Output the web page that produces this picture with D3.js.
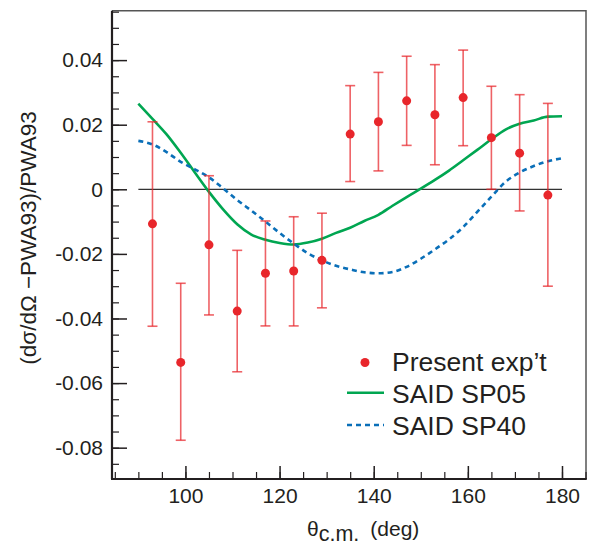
<!DOCTYPE html>
<html>
<head>
<meta charset="utf-8">
<script src="https://cdn.jsdelivr.net/npm/d3@7"></script>
<style>
  body { margin: 0; background: #fff; }
  text { font-family: "Liberation Sans", Arial, Helvetica, sans-serif; fill: #231f20; }
</style>
</head>
<body>
<svg id="chart" width="597" height="544"></svg>
<script>
// measured points (theta in deg)
var angles = [93, 99, 105, 111, 117, 123, 129, 135, 141, 147, 153, 159, 165, 171, 177]
var ratio = [-0.0107, -0.0536, -0.0172, -0.0377, -0.0260, -0.0253, -0.0220, 0.0171, 0.0209, 0.0274, 0.0231, 0.0284, 0.0160, 0.0112, -0.0018]
var errHi = [0.0209, -0.0291, 0.0042, -0.0189, -0.0098, -0.0085, -0.0074, 0.0321, 0.0362, 0.0412, 0.0386, 0.0431, 0.0319, 0.0293, 0.0266]
var errLo = [-0.0424, -0.0777, -0.0389, -0.0565, -0.0423, -0.0423, -0.0367, 0.0024, 0.0057, 0.0136, 0.0076, 0.0135, 0.0000, -0.0067, -0.0300]

// PWA curves
var curveAngles = [90, 93, 96, 99, 102, 105, 108, 111, 114, 117, 120, 123, 126, 129, 132, 135, 138, 141, 144, 147, 150, 153, 156, 159, 162, 165, 168, 171, 174, 177, 180]
var sp05 = [0.0265, 0.0218, 0.0170, 0.0113, 0.0052, -0.0008, -0.0062, -0.0108, -0.0140, -0.0156, -0.0166, -0.0171, -0.0165, -0.0153, -0.0135, -0.0119, -0.0098, -0.0079, -0.0051, -0.0024, 0.0002, 0.0029, 0.0058, 0.0090, 0.0122, 0.0155, 0.0185, 0.0203, 0.0213, 0.0225, 0.0226]
var sp40 = [0.0150, 0.0139, 0.0115, 0.0085, 0.0062, 0.0037, 0.0003, -0.0033, -0.0066, -0.0100, -0.0135, -0.0168, -0.0198, -0.0220, -0.0237, -0.0248, -0.0257, -0.0260, -0.0256, -0.0240, -0.0215, -0.0186, -0.0155, -0.0117, -0.0070, -0.0023, 0.0023, 0.0052, 0.0072, 0.0087, 0.0096]

var xMajor = [100, 120, 140, 160, 180]
var yMajor = [-0.08, -0.06, -0.04, -0.02, 0, 0.02, 0.04]
var legendLabels = ["Present exp\u2019t", "SAID SP05", "SAID SP40"]

var red = "#e8262b", green = "#00a651", blue = "#0a6fb8"

var dims = { left: 112, right: 586, top: 10.7, bottom: 479 }

var svg = d3.select("#chart")

var x = d3.scaleLinear().domain([84.4, 185.1]).range([dims.left, dims.right])
var y = d3.scaleLinear().domain([-0.0897, 0.0553]).range([dims.bottom, dims.top])

// frame (top, right)
svg.append("path")
  .attr("d", `M${dims.left},${dims.top}H${dims.right}V${dims.bottom}`)
  .attr("fill", "none")
  .attr("stroke", "#555")
  .attr("stroke-width", 1.5)

// zero line
svg.append("line")
  .attr("x1", x(90)).attr("x2", x(180))
  .attr("y1", y(0)).attr("y2", y(0))
  .attr("stroke", "#333")
  .attr("stroke-width", 1.2)

// minor ticks
var xMinor = d3.range(85, 186, 5)
var yMinor = d3.range(-0.085, 0.0551, 0.005)

svg.append("g")
  .attr("transform", `translate(0,${dims.bottom})`)
  .call(d3.axisBottom(x).tickValues(xMinor).tickSizeInner(-7).tickSizeOuter(0).tickFormat(""))
  .call(g => g.select(".domain").remove())
  .selectAll("line").attr("stroke", "#231f20").attr("stroke-width", 1.2)

svg.append("g")
  .attr("transform", `translate(${dims.left},0)`)
  .call(d3.axisLeft(y).tickValues(yMinor).tickSizeInner(-7).tickSizeOuter(0).tickFormat(""))
  .call(g => g.select(".domain").remove())
  .selectAll("line").attr("stroke", "#231f20").attr("stroke-width", 1.2)

// major axes
var xAxis = svg.append("g")
  .attr("transform", `translate(0,${dims.bottom})`)
  .call(d3.axisBottom(x).tickValues(xMajor).tickSizeInner(-13).tickSizeOuter(0).tickPadding(9))
xAxis.select(".domain").attr("stroke", "#231f20").attr("stroke-width", 2.2)
  .attr("d", `M${dims.left - 1},0H${dims.right + 0.75}`)
xAxis.selectAll("line").attr("stroke", "#231f20").attr("stroke-width", 1.5)
xAxis.selectAll("text").style("font-size", "21px").attr("fill", "#231f20")

var yAxis = svg.append("g")
  .attr("transform", `translate(${dims.left},0)`)
  .call(d3.axisLeft(y).tickValues(yMajor).tickSizeInner(-15).tickSizeOuter(0).tickPadding(9)
    .tickFormat(d => Math.abs(d) < 1e-9 ? "0" : d3.format(".2f")(d).replace("\u2212", "-")))
yAxis.select(".domain").attr("stroke", "#231f20").attr("stroke-width", 2.2)
  .attr("d", `M0,${dims.top}V${dims.bottom}`)
yAxis.selectAll("line").attr("stroke", "#231f20").attr("stroke-width", 1.5)
yAxis.selectAll("text").style("font-size", "21px").attr("fill", "#231f20")

// curves
var line = d3.line().x((d, i) => x(curveAngles[i])).y(d => y(d)).curve(d3.curveMonotoneX)

svg.append("path")
  .datum(sp05)
  .attr("d", line)
  .attr("fill", "none")
  .attr("stroke", green)
  .attr("stroke-width", 2.6)

svg.append("path")
  .datum(sp40)
  .attr("d", line)
  .attr("fill", "none")
  .attr("stroke", blue)
  .attr("stroke-width", 2.6)
  .attr("stroke-dasharray", "5,4")

// error bars
var bars = svg.append("g")
  .selectAll("g")
  .data(angles)
  .enter()
  .append("g")
  .attr("stroke", red)
  .attr("stroke-opacity", 0.72)
  .attr("stroke-width", 1.6)

bars.append("line")
  .attr("x1", d => x(d)).attr("x2", d => x(d))
  .attr("y1", (d, i) => y(errHi[i])).attr("y2", (d, i) => y(errLo[i]))
bars.append("line")
  .attr("x1", d => x(d) - 5).attr("x2", d => x(d) + 5)
  .attr("y1", (d, i) => y(errHi[i])).attr("y2", (d, i) => y(errHi[i]))
bars.append("line")
  .attr("x1", d => x(d) - 5).attr("x2", d => x(d) + 5)
  .attr("y1", (d, i) => y(errLo[i])).attr("y2", (d, i) => y(errLo[i]))

svg.append("g")
  .selectAll("circle")
  .data(angles)
  .enter()
  .append("circle")
  .attr("cx", d => x(d))
  .attr("cy", (d, i) => y(ratio[i]))
  .attr("r", 4.5)
  .attr("fill", red)

// legend
var legend = svg.append("g").attr("transform", "translate(347,0)")
legend.append("circle").attr("cx", 18).attr("cy", 362.5).attr("r", 4.5).attr("fill", red)
legend.append("line").attr("x1", 0).attr("x2", 37).attr("y1", 392.7).attr("y2", 392.7)
  .attr("stroke", green).attr("stroke-width", 2.6)
legend.append("line").attr("x1", 0).attr("x2", 37).attr("y1", 425).attr("y2", 425)
  .attr("stroke", blue).attr("stroke-width", 2.6).attr("stroke-dasharray", "5,4")

legend.selectAll("text.leg")
  .data(legendLabels)
  .enter()
  .append("text")
  .attr("class", "leg")
  .attr("x", 45)
  .attr("y", (d, i) => 371 + i * 32)
  .style("font-size", "26.5px")
  .text(d => d)

// axis titles
svg.append("text")
  .attr("transform", "translate(36,238) rotate(-90)")
  .attr("text-anchor", "middle")
  .style("font-size", "22.5px")
  .text("(d\u03c3/d\u03a9 \u2212PWA93)/PWA93")

var xt = svg.append("text")
  .attr("x", 307)
  .attr("y", 536)
  .style("font-size", "21px")
xt.append("tspan").text("\u03b8")
xt.append("tspan").attr("dy", 4.5).style("font-size", "21.5px").text("c.m.")
xt.append("tspan").attr("dy", -4.5).attr("dx", 11).text("(deg)")
</script>
</body>
</html>
